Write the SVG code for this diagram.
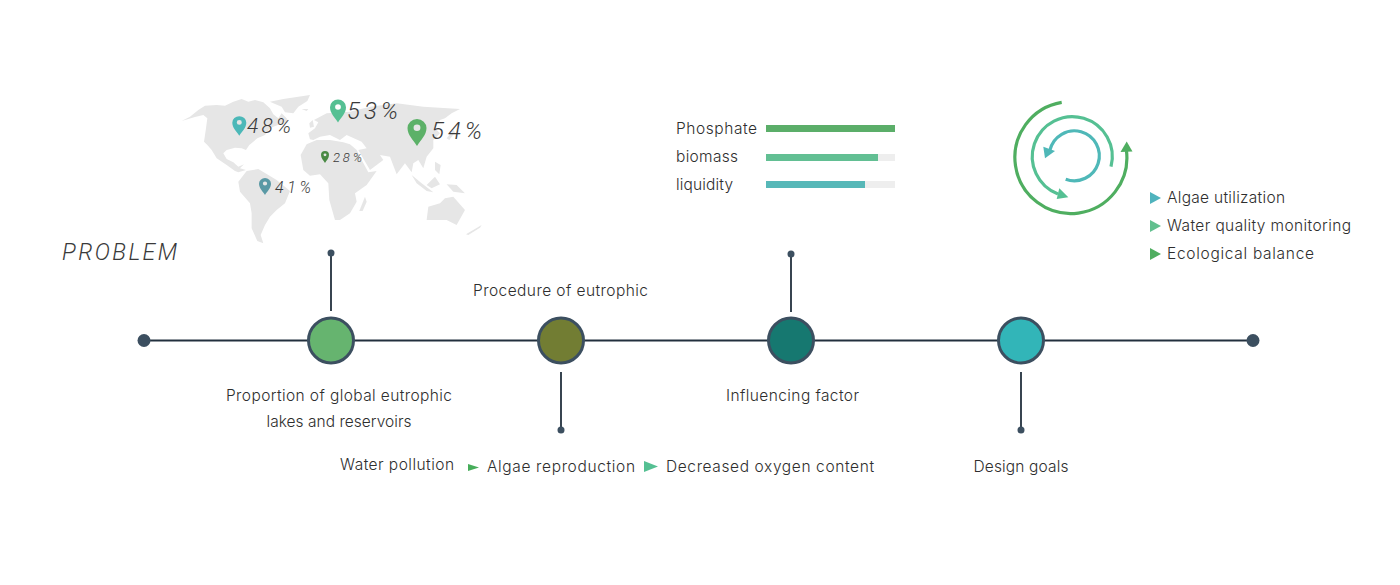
<svg xmlns="http://www.w3.org/2000/svg" width="1400" height="585" viewBox="0 0 1400 585">
<style>
text{font-family:"Inter","Lato",sans-serif;font-weight:300;fill:#2e2e2e}
.l{font-size:15.500px}
.p{font-family:"Roboto","Liberation Sans",sans-serif;font-style:italic;font-weight:300;fill:#3a3a3a}
.land{fill:#e6e6e6}
.wire{stroke:#22303e;stroke-width:1.800;fill:none}
.dot{fill:#3c4f60}
.ring{stroke:#3c4f60;stroke-width:3}
.track{fill:#eeeeee}
.arc{fill:none;stroke-width:3.200}
</style>
<defs>
<path id="pin" d="M0,0C-2,-3.500 -5,-6 -5,-10A5,5 0 1 1 5,-10C5,-6 2,-3.500 0,0ZM0,-12A1.800,1.800 0 1 0 0,-8.400A1.800,1.800 0 1 0 0,-12Z" fill-rule="evenodd"/>
</defs>
<g id="world-map" transform="translate(170,85) scale(.3333)" class="land">
<path d="M35,108L60,95L85,75L105,62L140,60L165,62L190,50L215,42L235,50L255,45L280,52L300,70L310,88L325,100L335,85L350,100L352,112L330,118L310,125L298,132L285,150L262,160L250,170L238,180L228,195L215,190L195,188L170,195L160,205L170,222L190,232L205,245L222,238L210,250L228,255L205,262L195,258L170,240L140,220L125,195L112,180L102,170L108,130L112,100L100,90L75,96Z"/>
<path d="M300,50L340,42L420,30L412,48L385,65L370,85L345,82L335,65L310,55Z"/>
<path d="M205,290L230,258L265,252L295,270L320,285L360,318L345,355L320,375L300,395L285,420L272,450L280,475L262,468L245,430L245,385L240,355L210,320Z"/>
<path d="M392,210L410,178L440,165L480,165L520,172L540,178L560,195L575,225L595,262L620,258L590,300L555,325L560,350L540,385L510,405L495,405L478,345L475,295L450,268L420,272L400,255Z"/>
<path d="M420,163L415,145L435,130L445,112L432,105L470,85L540,80L600,65L680,55L760,65L870,72L845,85L825,100L810,105L795,130L810,145L790,165L790,190L770,215L760,250L745,225L730,235L725,262L705,235L680,268L660,215L630,210L640,225L600,255L565,195L590,190L575,170L530,150L510,165L480,150L450,155L430,165Z"/>
<path d="M770,405L775,365L810,355L825,340L850,335L885,375L860,420L830,405Z"/>
<path d="M568,378L585,335L590,350L578,378Z"/>
<path d="M888,448L935,420L930,428L895,450Z"/>
<path d="M725,270L755,295L790,322L770,318L740,295Z"/>
<path d="M770,300L795,275L810,298L785,310Z"/>
<path d="M830,298L860,300L885,325L850,320Z"/>
<path d="M795,230L812,240L808,268L795,255Z"/>
<path d="M395,72L415,72L410,78Z"/>
<path d="M418,115L428,105L432,125L420,128Z"/>
<path d="M830,160L850,135L855,142L838,165Z"/>
</g>
<g id="pin-48"><use href="#pin" transform="translate(239.300,135.700) scale(1.400,1.300)" fill="#4cb8b8"/><text class="p" x="247" y="133" font-size="21" textLength="44">48%</text></g>
<g id="pin-53"><use href="#pin" transform="translate(338,122.500) scale(1.600,1.530)" fill="#55c093"/><text class="p" x="347" y="118.500" font-size="24" textLength="51">53%</text></g>
<g id="pin-54"><use href="#pin" transform="translate(417,146) scale(1.900,1.800)" fill="#5cb168"/><text class="p" x="431" y="139" font-size="24" textLength="51">54%</text></g>
<g id="pin-28"><use href="#pin" transform="translate(325,163) scale(.8,.8)" fill="#4a8a44"/><text class="p" x="333" y="162" font-size="13" textLength="29">28%</text></g>
<g id="pin-41"><use href="#pin" transform="translate(265,195) scale(1.200,1.130)" fill="#5a99a5"/><text class="p" x="275" y="193" font-size="16" textLength="36">41%</text></g>
<text id="problem" class="p" x="62" y="260" font-size="23" textLength="115">PROBLEM</text>
<g id="connectors">
<line class="wire" x1="144" y1="340.500" x2="1253" y2="340.500"/>
<line class="wire" x1="331" y1="253" x2="331" y2="311"/>
<line class="wire" x1="561" y1="372" x2="561" y2="430"/>
<line class="wire" x1="791" y1="254" x2="791" y2="312"/>
<line class="wire" x1="1021" y1="372" x2="1021" y2="430"/>
</g>
<circle id="end-left" class="dot" cx="144" cy="340.500" r="6.500"/>
<circle id="end-right" class="dot" cx="1253" cy="340.500" r="6.500"/>
<circle class="dot" cx="331" cy="253" r="3.500"/>
<circle class="dot" cx="561" cy="430" r="3.500"/>
<circle class="dot" cx="791" cy="254" r="3.500"/>
<circle class="dot" cx="1021" cy="430" r="3.500"/>
<g id="node-proportion"><circle class="ring" cx="331" cy="340.500" r="22.500" fill="#66b46f"/>
<text class="l" x="339" y="401" text-anchor="middle" textLength="226">Proportion of global eutrophic</text>
<text class="l" x="339" y="427" text-anchor="middle" textLength="145">lakes and reservoirs</text></g>
<g id="node-procedure"><circle class="ring" cx="561" cy="340.500" r="22.500" fill="#727d33"/>
<text class="l" x="560.500" y="295.500" text-anchor="middle" textLength="175">Procedure of eutrophic</text></g>
<g id="node-factor"><circle class="ring" cx="791" cy="340.500" r="22.500" fill="#167870"/>
<text class="l" x="792.500" y="401" text-anchor="middle" textLength="133">Influencing factor</text></g>
<g id="node-goals"><circle class="ring" cx="1021" cy="340.500" r="22.500" fill="#32b5b8"/>
<text class="l" x="1021" y="472" text-anchor="middle" textLength="95">Design goals</text></g>
<g id="chain">
<text class="l" x="340" y="470" textLength="114">Water pollution</text>
<path d="M468,464L479,467.500L468,471Z" fill="#46ad5a"/>
<text class="l" x="487" y="471.500" textLength="148">Algae reproduction</text>
<path d="M644,461L658,466.500L644,472Z" fill="#55c093"/>
<text class="l" x="666" y="472" textLength="208">Decreased oxygen content</text>
</g>
<g id="bars">
<text class="l" x="676" y="134" textLength="81">Phosphate</text>
<rect x="766" y="125" width="129" height="7" fill="#5bae69"/>
<text class="l" x="676" y="162" textLength="62">biomass</text>
<rect class="track" x="766" y="154" width="129" height="7"/>
<rect x="766" y="154" width="112" height="7" fill="#62bf93"/>
<text class="l" x="676" y="190" textLength="57">liquidity</text>
<rect class="track" x="766" y="181" width="129" height="7"/>
<rect x="766" y="181" width="99" height="7" fill="#57b8b8"/>
</g>
<g id="cycle">
<path class="arc" stroke="#4fae60" d="M1061.700,102.300A56,56 0 1 0 1126.500,151"/>
<path d="M1126.700,141.500L1132.500,151.500L1120.500,152Z" fill="#4fae60"/>
<path class="arc" stroke="#55c093" d="M1111,166.700A40,40 0 1 0 1058,194"/>
<path d="M1068.300,197.300L1056.700,199L1059.300,188.300Z" fill="#55c093"/>
<path class="arc" stroke="#4fb8b8" d="M1065.700,179.300A25,25 0 1 0 1050,150"/>
<path d="M1043.300,146.700L1055,151L1045,158.300Z" fill="#4fb8b8"/>
</g>
<g id="goals-list">
<path d="M1150,192L1161,198L1150,204Z" fill="#4fb3bd"/>
<text class="l" x="1167" y="203" textLength="118">Algae utilization</text>
<path d="M1150,220L1161,226L1150,232Z" fill="#62c08f"/>
<text class="l" x="1167" y="231" textLength="184">Water quality monitoring</text>
<path d="M1150,248L1161,254L1150,260Z" fill="#4fae60"/>
<text class="l" x="1167" y="259" textLength="147">Ecological balance</text>
</g>
</svg>
